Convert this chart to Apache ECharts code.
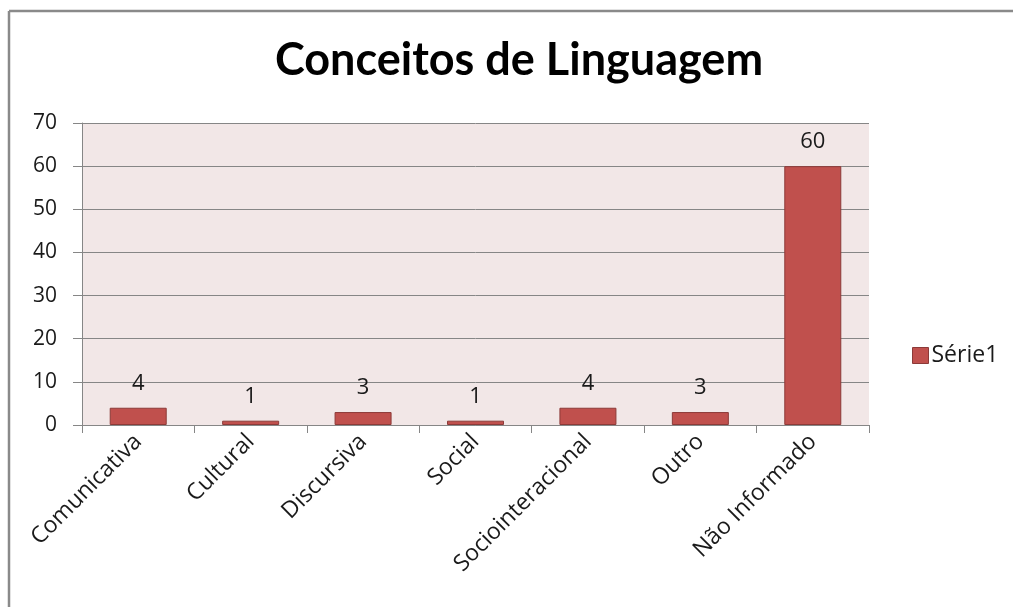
<!DOCTYPE html>
<html>
<head>
<meta charset="utf-8">
<script src="https://cdn.jsdelivr.net/npm/echarts@6/dist/echarts.min.js"></script>
<style>
  html, body { margin: 0; padding: 0; background: #ffffff; overflow: hidden; }
  #chart { width: 1013px; height: 607px; }
</style>
</head>
<body>
<div id="chart"></div>
<script>
// Language concept counts
const categories = ['Comunicativa', 'Cultural', 'Discursiva', 'Social', 'Sociointeracional', 'Outro', 'Não Informado'];
const serie1 = [4, 1, 3, 1, 4, 3, 60];
const yTicks = { min: 0, max: 70, interval: 10 };

const FONT = '"Open Sans", Lato, sans-serif';
const TITLE_FONT = 'Lato, "Open Sans", sans-serif';
const TEXT = '#1a1a1a';
const GRID_LINE = '#868686';
const FRAME = '#8a8a8a';

const chart = echarts.init(document.getElementById('chart'), null, { renderer: 'canvas' });

chart.setOption({
  backgroundColor: '#ffffff',
  animation: false,
  textStyle: { fontFamily: FONT, color: TEXT },
  // chart-area frame: top and left edges
  graphic: [
    { type: 'line', silent: true, z: 100,
      shape: { x1: 9, y1: 11, x2: 1013, y2: 11 },
      style: { stroke: FRAME, lineWidth: 2.5 } },
    { type: 'line', silent: true, z: 100,
      shape: { x1: 9, y1: 11, x2: 9, y2: 607 },
      style: { stroke: FRAME, lineWidth: 2.5 } }
  ],
  title: {
    text: 'Conceitos de Linguagem',
    left: 514,
    textAlign: 'center',
    top: 33,
    textStyle: { fontFamily: TITLE_FONT, fontWeight: 'bold', fontSize: 45, color: '#000000' }
  },
  legend: {
    orient: 'vertical',
    left: 912,
    top: 344,
    padding: 0,
    icon: 'rect',
    itemWidth: 16,
    itemHeight: 16,
    itemGap: 4,
    itemStyle: { borderColor: '#8c3a38', borderWidth: 1 },
    textStyle: { fontFamily: FONT, fontSize: 23, color: TEXT, padding: [0, 0, 0, -2] },
    data: ['Série1']
  },
  grid: {
    left: 82,
    right: 144,
    top: 123,
    bottom: 182,
    show: true,
    backgroundColor: '#F2E7E7',
    borderWidth: 0
  },
  xAxis: {
    type: 'category',
    data: categories,
    boundaryGap: true,
    axisLine: { show: true, lineStyle: { color: GRID_LINE, width: 1 } },
    axisTick: { show: true, length: 8, alignWithLabel: false, lineStyle: { color: GRID_LINE } },
    axisLabel: {
      rotate: 45,
      margin: 13,
      interval: 0,
      fontFamily: FONT,
      fontSize: 23,
      color: TEXT
    }
  },
  yAxis: {
    type: 'value',
    min: yTicks.min,
    max: yTicks.max,
    interval: yTicks.interval,
    axisLine: { show: true, lineStyle: { color: GRID_LINE, width: 1 } },
    axisTick: { show: true, length: 9, lineStyle: { color: GRID_LINE } },
    axisLabel: { margin: 25, fontFamily: FONT, fontSize: 21, color: TEXT },
    splitLine: { show: true, lineStyle: { color: GRID_LINE, width: 1 } }
  },
  series: [{
    name: 'Série1',
    type: 'bar',
    data: serie1,
    barWidth: 57,
    itemStyle: { color: '#C0504D', borderColor: '#8c3a38', borderWidth: 1 },
    label: {
      show: true,
      position: 'top',
      distance: 13,
      fontFamily: FONT,
      fontSize: 22,
      color: TEXT
    }
  }]
});
</script>
</body>
</html>
